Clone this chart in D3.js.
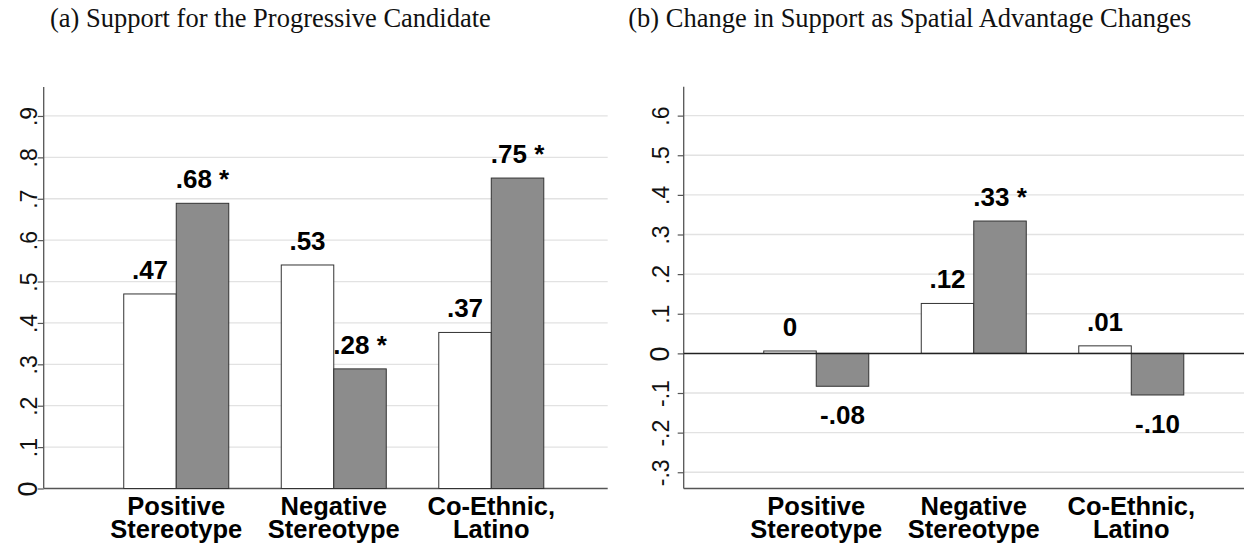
<!DOCTYPE html>
<html>
<head>
<meta charset="utf-8">
<script src="https://cdn.jsdelivr.net/npm/d3@7"></script>
<style>
  body { margin: 0; background: #fff; }
  svg { display: block; }
</style>
</head>
<body>
<svg width="1244" height="557"></svg>
<script>
// categories on the x axis (two lines each)
const categories = [["Positive", "Stereotype"], ["Negative", "Stereotype"], ["Co-Ethnic,", "Latino"]];

// panel (a) values
const supportBase = [0.47, 0.54, 0.377];
const supportAdv = [0.689, 0.289, 0.75];
const supportBaseLabels = [".47", ".53", ".37"];
const supportAdvLabels = [".68 *", ".28 *", ".75 *"];
const supportTicks = [0, 0.1, 0.2, 0.3, 0.4, 0.5, 0.6, 0.7, 0.8, 0.9];
const supportTickLabels = ["0", ".1", ".2", ".3", ".4", ".5", ".6", ".7", ".8", ".9"];

// panel (b) values
const changeBase = [0.006, 0.126, 0.019];
const changeAdv = [-0.083, 0.334, -0.105];
const changeBaseLabels = ["0", ".12", ".01"];
const changeAdvLabels = ["-.08", ".33 *", "-.10"];
const changeTicks = [-0.3, -0.2, -0.1, 0, 0.1, 0.2, 0.3, 0.4, 0.5, 0.6];
const changeTickLabels = ["-.3", "-.2", "-.1", "0", ".1", ".2", ".3", ".4", ".5", ".6"];

const titles = ["(a) Support for the Progressive Candidate", "(b) Change in Support as Spatial Advantage Changes"];

const svg = d3.select("svg");
const sans = "'Liberation Sans', Arial, Helvetica, sans-serif";
const serif = "'Liberation Serif', 'Times New Roman', serif";

function drawPanel(opts) {
  const width = 564, top = opts.top, bottom = 488.5;
  const g = svg.append("g").attr("transform", `translate(${opts.left},0)`);

  const y = d3.scaleLinear().domain(opts.yDomain).range([bottom, top]);
  const x = d3.scaleBand().domain(d3.range(categories.length))
    .range([0, width]).paddingInner(1 / 3).paddingOuter(0.457).align(0.556);
  const xs = d3.scaleBand().domain(["base", "adv"]).range([0, x.bandwidth()]);

  // title
  svg.append("text")
    .attr("x", opts.titleX).attr("y", 27)
    .style("font", `26.5px ${serif}`)
    .attr("fill", "#111")
    .text(opts.title);

  // gridlines
  g.selectAll(".grid")
    .data(opts.ticks.filter(t => t !== 0))
    .enter().append("line")
    .attr("x1", 0).attr("x2", width)
    .attr("y1", d => y(d)).attr("y2", d => y(d))
    .attr("stroke", "#e2e2e2").attr("stroke-width", 1.3);

  // y axis
  const yAxis = g.append("g")
    .call(d3.axisLeft(y).tickValues(opts.ticks).tickSize(6)
      .tickFormat((d, i) => opts.tickLabels[i]));
  yAxis.select(".domain").attr("stroke", "#555").attr("stroke-width", 1.3)
    .attr("d", `M0,${top}V${bottom}`);
  yAxis.selectAll(".tick line").attr("stroke", "#555").attr("stroke-width", 1.2);
  yAxis.selectAll(".tick text")
    .attr("dy", null)
    .attr("transform", `rotate(-90)`)
    .attr("x", 0).attr("y", -opts.labelGap)
    .attr("text-anchor", "middle")
    .attr("fill", "#111")
    .style("font", d => d === 0 ? `27px ${sans}` : `23px ${sans}`);

  // x axis line
  g.append("line")
    .attr("x1", 0).attr("x2", width)
    .attr("y1", bottom).attr("y2", bottom)
    .attr("stroke", "#555").attr("stroke-width", 1.3);

  const bars = [];
  categories.forEach((c, i) => {
    bars.push({ i, key: "base", v: opts.base[i], label: opts.baseLabels[i] });
    bars.push({ i, key: "adv", v: opts.adv[i], label: opts.advLabels[i] });
  });

  g.selectAll(".bar")
    .data(bars)
    .enter().append("rect")
    .attr("x", d => x(d.i) + xs(d.key))
    .attr("width", xs.bandwidth())
    .attr("y", d => y(Math.max(0, d.v)))
    .attr("height", d => Math.abs(y(d.v) - y(0)))
    .attr("fill", d => d.key === "base" ? "#ffffff" : "#8c8c8c")
    .attr("stroke", "#333").attr("stroke-width", 1);

  // zero line for panel with negatives
  if (opts.yDomain[0] < 0) {
    g.append("line")
      .attr("x1", 0).attr("x2", width)
      .attr("y1", y(0)).attr("y2", y(0))
      .attr("stroke", "#222").attr("stroke-width", 1.5);
  }

  // value labels
  g.selectAll(".vlabel")
    .data(bars)
    .enter().append("text")
    .attr("x", d => x(d.i) + xs(d.key) + xs.bandwidth() / 2)
    .attr("y", d => d.v >= 0 ? y(d.v) - 15 : y(d.v) + 38)
    .attr("text-anchor", "middle")
    .attr("fill", "#000")
    .style("font", `bold 26px ${sans}`)
    .text(d => d.label);

  // category labels
  const cat = g.selectAll(".cat")
    .data(categories)
    .enter().append("text")
    .attr("text-anchor", "middle")
    .attr("fill", "#000")
    .style("font", `bold 25.5px ${sans}`);
  cat.append("tspan")
    .attr("x", (d, i) => x(i) + x.bandwidth() / 2).attr("y", 515)
    .text(d => d[0]);
  cat.append("tspan")
    .attr("x", (d, i) => x(i) + x.bandwidth() / 2).attr("y", 538)
    .text(d => d[1]);
}

drawPanel({
  left: 43.7, top: 87, titleX: 50, title: titles[0],
  yDomain: [0, 0.97], ticks: supportTicks, tickLabels: supportTickLabels,
  base: supportBase, adv: supportAdv,
  baseLabels: supportBaseLabels, advLabels: supportAdvLabels,
  labelGap: 7
});

drawPanel({
  left: 683.7, top: 86.7, titleX: 628.3, title: titles[1],
  yDomain: [-0.341, 0.673], ticks: changeTicks, tickLabels: changeTickLabels,
  base: changeBase, adv: changeAdv,
  baseLabels: changeBaseLabels, advLabels: changeAdvLabels,
  labelGap: 15
});
</script>
</body>
</html>
